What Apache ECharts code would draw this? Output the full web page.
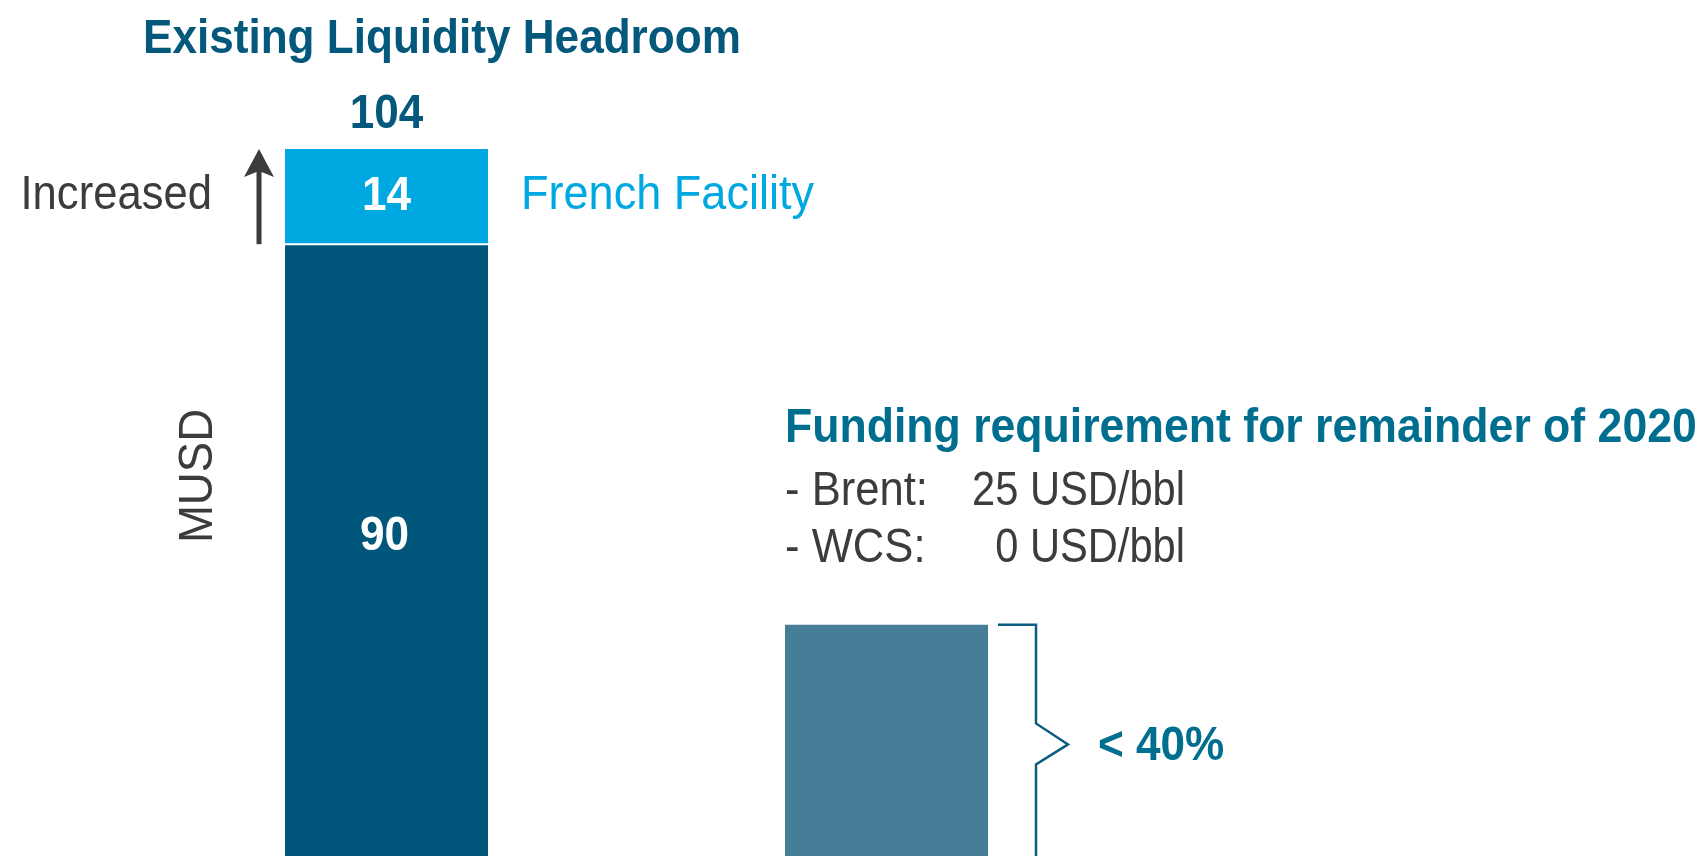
<!DOCTYPE html>
<html><head><meta charset="utf-8">
<script src="https://cdn.jsdelivr.net/npm/echarts@6/dist/echarts.min.js"></script>
<style>html,body{margin:0;padding:0;background:#fff}#c{width:1708px;height:856px}</style>
</head><body><div id="c"></div>
<script>
// ---- data ----
const categories = ['Existing Liquidity Headroom', 'Funding requirement for remainder of 2020'];
const existingValues = [90, null];
const frenchFacilityValues = [14, null];
const fundingValues = [null, 34];
const fundingShareLabel = '< 40%';
const assumptionNames = ['- Brent:', '- WCS:'];
const assumptionValues = ['25 USD/bbl', '0 USD/bbl'];
const unitLabel = 'MUSD';
const increaseLabel = 'Increased';
const facilityLabel = 'French Facility';

const totals = existingValues.map((v, i) => (v || 0) + (frenchFacilityValues[i] || 0));
const FONT = "'Liberation Sans',Arial,sans-serif";
const FS = 49;
const SX_R = 0.89, SX_B = 0.9;
const C_DARK = '#01577b', C_LIGHT = '#00a8e1', C_FUND = '#467e97', C_TITLE = '#03587c', C_TEAL = '#006e8e', C_GRAY = '#3c3c3c';

const chart = echarts.init(document.getElementById('c'), null, {renderer: 'canvas'});
chart.setOption({
  animation: false,
  backgroundColor: '#fff',
  grid: {left: 136.5, width: 1000, top: 149, bottom: 0, containLabel: false},
  xAxis: {type: 'category', data: categories, show: false},
  yAxis: {type: 'value', min: 0, max: Math.max(...totals), show: false},
  series: [
    {type: 'bar', name: 'Existing', stack: 'a', barWidth: 203, data: existingValues, itemStyle: {color: C_DARK}},
    {type: 'bar', name: facilityLabel, stack: 'a', barWidth: 203, data: frenchFacilityValues, itemStyle: {color: C_LIGHT}},
    {type: 'bar', name: 'Funding', stack: 'a', barWidth: 203, data: fundingValues, itemStyle: {color: C_FUND}}
  ]
});

// ---- annotations positioned from the axes ----
const px = (c, v) => chart.convertToPixel({gridIndex: 0}, [c, v]);
const half = 101.5;
const [b1x, yTop1] = px(0, totals[0]);
const yMid1 = px(0, existingValues[0])[1];
const [b2x, yTop2] = px(1, fundingValues[1]);
const yZero = px(1, 0)[1];

const ax = b1x - half - 26;
const bx = b2x + half + 48;
const tipY = (yTop2 + yZero) / 2 + 4;
const T = (x, y, text, fill, align, bold, extra) => Object.assign({
  type: 'text', x, y, z: 100, scaleX: bold ? SX_B : SX_R,
  style: {text, fill, align, verticalAlign: 'middle', fontFamily: FONT, fontSize: FS, fontWeight: bold ? 'bold' : 'normal'}
}, extra || {});

chart.setOption({graphic: [
  // gap between stacked segments
  {type: 'line', z: 100, shape: {x1: b1x - half, y1: yMid1, x2: b1x + half, y2: yMid1}, style: {stroke: '#fff', lineWidth: 2}},
  // titles & values
  T(143, 39, categories[0], C_TITLE, 'left', true),
  T(b1x, yTop1 - 35, String(totals[0]), C_TITLE, 'center', true),
  T(b1x, (yTop1 + yMid1) / 2, String(frenchFacilityValues[0]), '#fff', 'center', true),
  T(b1x - 2, (yMid1 + yZero) / 2 - 14, String(existingValues[0]), '#fff', 'center', true),
  // arrow
  {type: 'line', z: 100, shape: {x1: ax, y1: yMid1, x2: ax, y2: yTop1 + 22}, style: {stroke: C_GRAY, lineWidth: 5}},
  {type: 'polygon', z: 100, shape: {points: [[ax, yTop1], [ax - 15, yTop1 + 28], [ax, yTop1 + 22], [ax + 15, yTop1 + 28]]}, style: {fill: C_GRAY}},
  T(ax - 47, (yTop1 + yMid1) / 2 - 1, increaseLabel, C_GRAY, 'right', false),
  T(b1x + half + 33, (yTop1 + yMid1) / 2 - 1, facilityLabel, C_LIGHT, 'left', false, {scaleX: 0.92}),
  T(198, 476, unitLabel, C_GRAY, 'center', false, {rotation: Math.PI / 2, scaleX: 0.93}),
  // funding block
  T(b2x - half, 428, categories[1], C_TEAL, 'left', true, {scaleX: 0.91}),
  T(b2x - half, 491, assumptionNames[0], C_GRAY, 'left', false),
  T(1185, 491, assumptionValues[0], C_GRAY, 'right', false, {scaleX: 0.85}),
  T(b2x - half, 548, assumptionNames[1], C_GRAY, 'left', false),
  T(1185, 548, assumptionValues[1], C_GRAY, 'right', false, {scaleX: 0.85}),
  // bracket
  {type: 'polyline', z: 100, shape: {points: [[b2x + half + 10, yTop2], [bx, yTop2], [bx, tipY - 21], [bx + 32, tipY], [bx, tipY + 20], [bx, yZero + 2]]},
   style: {stroke: '#0b5d82', lineWidth: 2.5, fill: null}},
  T(bx + 62, tipY + 2, fundingShareLabel, C_TEAL, 'left', true)
]});
</script></body></html>
